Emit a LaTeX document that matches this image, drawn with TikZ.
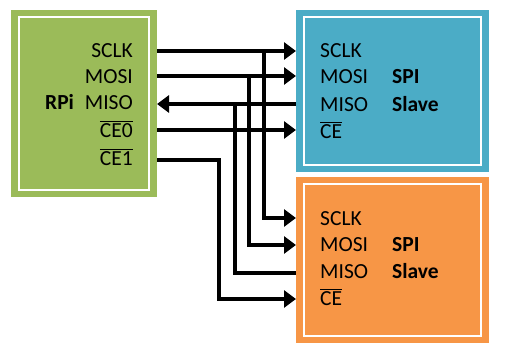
\documentclass[tikz,border=0pt]{standalone}
\usepackage{fontspec}
\setmainfont{Carlito}
\usetikzlibrary{arrows.meta}
\definecolor{rpigreen}{HTML}{9BBB59}
\definecolor{slaveblue}{HTML}{4BACC6}
\definecolor{slaveorange}{HTML}{F79646}
% active-low signal name with a bar above it
\newcommand{\barred}[1]{\leavevmode\vbox{\hrule height 1.3pt \kern 1.2pt \hbox{#1}}}
\begin{document}
\begin{tikzpicture}[x=1pt,y=-1pt,
  frame/.style={draw=white, line width=2.5pt},
  pin/.style={anchor=base west, inner sep=0pt, font=\fontsize{21.5}{24}\selectfont},
  rpin/.style={anchor=base east, inner sep=0pt, font=\fontsize{21.5}{24}\selectfont},
  title/.style={anchor=base west, inner sep=0pt, font=\fontsize{21.5}{24}\selectfont\bfseries},
  wire/.style={line width=3.2pt, line join=miter},
  sig/.style={wire, -{Triangle[length=12pt,width=17pt]}},
]
\useasboundingbox (0,0) rectangle (505,350);

% boards
\fill[rpigreen]    (11,10)  rectangle (157,197);
\draw[frame]       (19,17)  rectangle (149,190);
\fill[slaveblue]   (296,10) rectangle (489,172);
\draw[frame]       (304,17) rectangle (481,165);
\fill[slaveorange] (296,177) rectangle (489,343);
\draw[frame]       (304,184) rectangle (481,336);

% master pins
\node[title] (rpi) at (45,110) {RPi};
\node[rpin] (msclk) at (133,58)  {SCLK};
\node[rpin] (mmosi) at (133,84)  {MOSI};
\node[rpin] (mmiso) at (133,110) {MISO};
\node[rpin] (mce0)  at (133,137) {\barred{CE0}};
\node[rpin] (mce1)  at (133,165) {\barred{CE1}};

% first slave
\node[pin] (asclk) at (320,58)  {SCLK};
\node[pin] (amosi) at (320,84)  {MOSI};
\node[pin] (amiso) at (320,111) {MISO};
\node[pin] (ace)   at (320,138) {\barred{CE}};
\node[title] (aspi) at (392,84)  {SPI};
\node[title] (asl)  at (392,111) {Slave};

% second slave
\node[pin] (bsclk) at (320,225) {SCLK};
\node[pin] (bmosi) at (320,251) {MOSI};
\node[pin] (bmiso) at (320,278) {MISO};
\node[pin] (bce)   at (320,305) {\barred{CE}};
\node[title] (bspi) at (392,251) {SPI};
\node[title] (bsl)  at (392,278) {Slave};

% port coordinates on the board edges
\coordinate (p-sclk) at (157,51);
\coordinate (p-mosi) at (157,76);
\coordinate (p-miso) at (157,104);
\coordinate (p-ce0)  at (157,130);
\coordinate (p-ce1)  at (157,160);
\coordinate (a-sclk) at (296,51);
\coordinate (a-mosi) at (296,76);
\coordinate (a-miso) at (296,104);
\coordinate (a-ce)   at (296,130);
\coordinate (b-sclk) at (296,218);
\coordinate (b-mosi) at (296,245);
\coordinate (b-miso) at (296,273);
\coordinate (b-ce)   at (296,299);

% bus junctions
\coordinate (j-sclk) at (264,51);
\coordinate (j-mosi) at (249,76);
\coordinate (j-miso) at (235,104);
\coordinate (j-ce1)  at (219,160);

% wiring
\draw[sig] (p-sclk) -- (a-sclk);
\draw[sig] (p-mosi) -- (a-mosi);
\draw[sig] (a-miso) -- (p-miso);
\draw[sig] (p-ce0)  -- (a-ce);
\draw[sig] (j-sclk) |- (b-sclk);
\draw[sig] (j-mosi) |- (b-mosi);
\draw[wire] (b-miso) -| (j-miso);
\draw[sig] (p-ce1) -- (j-ce1) |- (b-ce);
\end{tikzpicture}
\end{document}
